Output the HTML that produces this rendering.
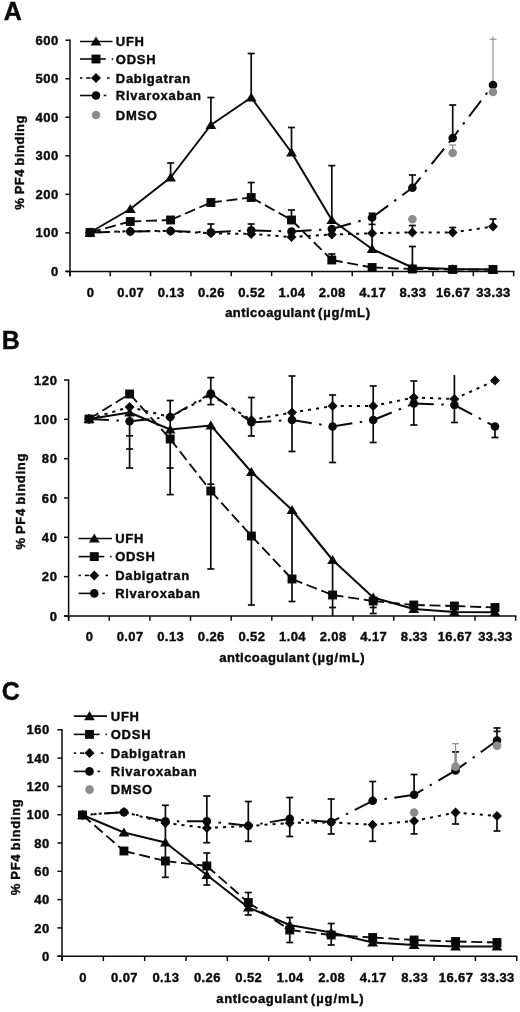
<!DOCTYPE html>
<html lang="en">
<head>
<meta charset="utf-8">
<title>PF4 binding vs anticoagulant</title>
<style>
html,body{margin:0;padding:0;background:#fff;}
body{width:520px;height:1012px;overflow:hidden;}
svg{display:block;font-family:"Liberation Sans", sans-serif;fill:#0a0a0a;will-change:transform;}
text{stroke:#0a0a0a;stroke-width:0.4px;stroke-linejoin:round;}
</style>
</head>
<body>
<svg width="520" height="1012" viewBox="0 0 520 1012">
<rect x="0" y="0" width="520" height="1012" fill="#ffffff"/>
<text x="3.70" y="19.90" font-size="25" font-weight="bold" text-anchor="start" letter-spacing="0">A</text>
<line x1="70.00" y1="39.50" x2="70.00" y2="276.20" stroke="#0a0a0a" stroke-width="1.5" stroke-linecap="butt"/>
<line x1="65.40" y1="271.40" x2="514.40" y2="271.40" stroke="#0a0a0a" stroke-width="1.5" stroke-linecap="butt"/>
<line x1="69.90" y1="271.40" x2="69.90" y2="276.20" stroke="#0a0a0a" stroke-width="1.5" stroke-linecap="butt"/>
<line x1="110.24" y1="271.40" x2="110.24" y2="276.20" stroke="#0a0a0a" stroke-width="1.5" stroke-linecap="butt"/>
<line x1="150.58" y1="271.40" x2="150.58" y2="276.20" stroke="#0a0a0a" stroke-width="1.5" stroke-linecap="butt"/>
<line x1="190.92" y1="271.40" x2="190.92" y2="276.20" stroke="#0a0a0a" stroke-width="1.5" stroke-linecap="butt"/>
<line x1="231.26" y1="271.40" x2="231.26" y2="276.20" stroke="#0a0a0a" stroke-width="1.5" stroke-linecap="butt"/>
<line x1="271.60" y1="271.40" x2="271.60" y2="276.20" stroke="#0a0a0a" stroke-width="1.5" stroke-linecap="butt"/>
<line x1="311.94" y1="271.40" x2="311.94" y2="276.20" stroke="#0a0a0a" stroke-width="1.5" stroke-linecap="butt"/>
<line x1="352.28" y1="271.40" x2="352.28" y2="276.20" stroke="#0a0a0a" stroke-width="1.5" stroke-linecap="butt"/>
<line x1="392.62" y1="271.40" x2="392.62" y2="276.20" stroke="#0a0a0a" stroke-width="1.5" stroke-linecap="butt"/>
<line x1="432.96" y1="271.40" x2="432.96" y2="276.20" stroke="#0a0a0a" stroke-width="1.5" stroke-linecap="butt"/>
<line x1="473.30" y1="271.40" x2="473.30" y2="276.20" stroke="#0a0a0a" stroke-width="1.5" stroke-linecap="butt"/>
<line x1="513.64" y1="271.40" x2="513.64" y2="276.20" stroke="#0a0a0a" stroke-width="1.5" stroke-linecap="butt"/>
<line x1="65.40" y1="271.40" x2="70.00" y2="271.40" stroke="#0a0a0a" stroke-width="1.5" stroke-linecap="butt"/>
<text x="58.90" y="276.00" font-size="13" font-weight="bold" text-anchor="end" letter-spacing="0.6">0</text>
<line x1="65.40" y1="232.87" x2="70.00" y2="232.87" stroke="#0a0a0a" stroke-width="1.5" stroke-linecap="butt"/>
<text x="58.90" y="237.47" font-size="13" font-weight="bold" text-anchor="end" letter-spacing="0.6">100</text>
<line x1="65.40" y1="194.33" x2="70.00" y2="194.33" stroke="#0a0a0a" stroke-width="1.5" stroke-linecap="butt"/>
<text x="58.90" y="198.93" font-size="13" font-weight="bold" text-anchor="end" letter-spacing="0.6">200</text>
<line x1="65.40" y1="155.80" x2="70.00" y2="155.80" stroke="#0a0a0a" stroke-width="1.5" stroke-linecap="butt"/>
<text x="58.90" y="160.40" font-size="13" font-weight="bold" text-anchor="end" letter-spacing="0.6">300</text>
<line x1="65.40" y1="117.27" x2="70.00" y2="117.27" stroke="#0a0a0a" stroke-width="1.5" stroke-linecap="butt"/>
<text x="58.90" y="121.87" font-size="13" font-weight="bold" text-anchor="end" letter-spacing="0.6">400</text>
<line x1="65.40" y1="78.73" x2="70.00" y2="78.73" stroke="#0a0a0a" stroke-width="1.5" stroke-linecap="butt"/>
<text x="58.90" y="83.33" font-size="13" font-weight="bold" text-anchor="end" letter-spacing="0.6">500</text>
<line x1="65.40" y1="40.20" x2="70.00" y2="40.20" stroke="#0a0a0a" stroke-width="1.5" stroke-linecap="butt"/>
<text x="58.90" y="44.80" font-size="13" font-weight="bold" text-anchor="end" letter-spacing="0.6">600</text>
<text x="90.50" y="297.00" font-size="13" font-weight="bold" text-anchor="middle" letter-spacing="0.4">0</text>
<text x="130.80" y="297.00" font-size="13" font-weight="bold" text-anchor="middle" letter-spacing="0.4">0.07</text>
<text x="171.10" y="297.00" font-size="13" font-weight="bold" text-anchor="middle" letter-spacing="0.4">0.13</text>
<text x="211.40" y="297.00" font-size="13" font-weight="bold" text-anchor="middle" letter-spacing="0.4">0.26</text>
<text x="251.70" y="297.00" font-size="13" font-weight="bold" text-anchor="middle" letter-spacing="0.4">0.52</text>
<text x="292.00" y="297.00" font-size="13" font-weight="bold" text-anchor="middle" letter-spacing="0.4">1.04</text>
<text x="332.30" y="297.00" font-size="13" font-weight="bold" text-anchor="middle" letter-spacing="0.4">2.08</text>
<text x="372.60" y="297.00" font-size="13" font-weight="bold" text-anchor="middle" letter-spacing="0.4">4.17</text>
<text x="412.90" y="297.00" font-size="13" font-weight="bold" text-anchor="middle" letter-spacing="0.4">8.33</text>
<text x="453.20" y="297.00" font-size="13" font-weight="bold" text-anchor="middle" letter-spacing="0.4">16.67</text>
<text x="493.50" y="297.00" font-size="13" font-weight="bold" text-anchor="middle" letter-spacing="0.4">33.33</text>
<text x="298.10" y="317.00" font-size="13" font-weight="bold" text-anchor="middle" letter-spacing="0.48" word-spacing="-1.5"><tspan letter-spacing="0.44">anticoagulant</tspan> <tspan letter-spacing="0.82">(µg/mL)</tspan></text>
<text x="24.40" y="162.30" font-size="13" font-weight="bold" text-anchor="middle" letter-spacing="0.55" word-spacing="-1" transform="rotate(-90 24.40 162.30)">% PF4 binding</text>
<line x1="170.60" y1="177.50" x2="170.60" y2="163.00" stroke="#0a0a0a" stroke-width="1.7" stroke-linecap="butt"/>
<line x1="167.10" y1="163.00" x2="174.10" y2="163.00" stroke="#0a0a0a" stroke-width="1.7" stroke-linecap="butt"/>
<line x1="210.90" y1="125.00" x2="210.90" y2="97.50" stroke="#0a0a0a" stroke-width="1.7" stroke-linecap="butt"/>
<line x1="207.40" y1="97.50" x2="214.40" y2="97.50" stroke="#0a0a0a" stroke-width="1.7" stroke-linecap="butt"/>
<line x1="251.20" y1="97.50" x2="251.20" y2="53.50" stroke="#0a0a0a" stroke-width="1.7" stroke-linecap="butt"/>
<line x1="247.70" y1="53.50" x2="254.70" y2="53.50" stroke="#0a0a0a" stroke-width="1.7" stroke-linecap="butt"/>
<line x1="291.50" y1="152.50" x2="291.50" y2="127.50" stroke="#0a0a0a" stroke-width="1.7" stroke-linecap="butt"/>
<line x1="288.00" y1="127.50" x2="295.00" y2="127.50" stroke="#0a0a0a" stroke-width="1.7" stroke-linecap="butt"/>
<line x1="331.80" y1="220.00" x2="331.80" y2="165.60" stroke="#0a0a0a" stroke-width="1.7" stroke-linecap="butt"/>
<line x1="328.30" y1="165.60" x2="335.30" y2="165.60" stroke="#0a0a0a" stroke-width="1.7" stroke-linecap="butt"/>
<line x1="372.10" y1="249.00" x2="372.10" y2="221.00" stroke="#0a0a0a" stroke-width="1.7" stroke-linecap="butt"/>
<line x1="368.60" y1="224.40" x2="375.60" y2="224.40" stroke="#0a0a0a" stroke-width="1.7" stroke-linecap="butt"/>
<line x1="412.40" y1="232.40" x2="412.40" y2="225.50" stroke="#0a0a0a" stroke-width="1.7" stroke-linecap="butt"/>
<line x1="408.90" y1="225.50" x2="415.90" y2="225.50" stroke="#0a0a0a" stroke-width="1.7" stroke-linecap="butt"/>
<line x1="412.40" y1="267.50" x2="412.40" y2="246.50" stroke="#0a0a0a" stroke-width="1.7" stroke-linecap="butt"/>
<line x1="408.90" y1="246.50" x2="415.90" y2="246.50" stroke="#0a0a0a" stroke-width="1.7" stroke-linecap="butt"/>
<line x1="251.20" y1="197.50" x2="251.20" y2="182.50" stroke="#0a0a0a" stroke-width="1.7" stroke-linecap="butt"/>
<line x1="247.70" y1="182.50" x2="254.70" y2="182.50" stroke="#0a0a0a" stroke-width="1.7" stroke-linecap="butt"/>
<line x1="291.50" y1="220.00" x2="291.50" y2="210.00" stroke="#0a0a0a" stroke-width="1.7" stroke-linecap="butt"/>
<line x1="288.00" y1="210.00" x2="295.00" y2="210.00" stroke="#0a0a0a" stroke-width="1.7" stroke-linecap="butt"/>
<line x1="331.80" y1="260.00" x2="331.80" y2="254.00" stroke="#0a0a0a" stroke-width="1.7" stroke-linecap="butt"/>
<line x1="328.30" y1="254.00" x2="335.30" y2="254.00" stroke="#0a0a0a" stroke-width="1.7" stroke-linecap="butt"/>
<line x1="210.90" y1="234.00" x2="210.90" y2="224.00" stroke="#0a0a0a" stroke-width="1.7" stroke-linecap="butt"/>
<line x1="207.40" y1="224.00" x2="214.40" y2="224.00" stroke="#0a0a0a" stroke-width="1.7" stroke-linecap="butt"/>
<line x1="251.20" y1="234.00" x2="251.20" y2="224.00" stroke="#0a0a0a" stroke-width="1.7" stroke-linecap="butt"/>
<line x1="247.70" y1="224.00" x2="254.70" y2="224.00" stroke="#0a0a0a" stroke-width="1.7" stroke-linecap="butt"/>
<line x1="372.10" y1="217.50" x2="372.10" y2="213.30" stroke="#0a0a0a" stroke-width="1.7" stroke-linecap="butt"/>
<line x1="368.60" y1="213.30" x2="375.60" y2="213.30" stroke="#0a0a0a" stroke-width="1.7" stroke-linecap="butt"/>
<line x1="412.40" y1="187.50" x2="412.40" y2="175.00" stroke="#0a0a0a" stroke-width="1.7" stroke-linecap="butt"/>
<line x1="408.90" y1="175.00" x2="415.90" y2="175.00" stroke="#0a0a0a" stroke-width="1.7" stroke-linecap="butt"/>
<line x1="452.70" y1="137.50" x2="452.70" y2="105.00" stroke="#0a0a0a" stroke-width="1.7" stroke-linecap="butt"/>
<line x1="449.20" y1="105.00" x2="456.20" y2="105.00" stroke="#0a0a0a" stroke-width="1.7" stroke-linecap="butt"/>
<line x1="493.00" y1="85.00" x2="493.00" y2="36.20" stroke="#8c8c8c" stroke-width="1.1" stroke-linecap="butt"/>
<line x1="489.50" y1="39.20" x2="496.50" y2="39.20" stroke="#8c8c8c" stroke-width="1.1" stroke-linecap="butt"/>
<line x1="452.70" y1="152.50" x2="452.70" y2="145.00" stroke="#8c8c8c" stroke-width="1.25" stroke-linecap="butt"/>
<line x1="449.20" y1="145.00" x2="456.20" y2="145.00" stroke="#8c8c8c" stroke-width="1.25" stroke-linecap="butt"/>
<line x1="452.70" y1="232.50" x2="452.70" y2="227.50" stroke="#0a0a0a" stroke-width="1.7" stroke-linecap="butt"/>
<line x1="449.20" y1="227.50" x2="456.20" y2="227.50" stroke="#0a0a0a" stroke-width="1.7" stroke-linecap="butt"/>
<line x1="493.00" y1="226.50" x2="493.00" y2="219.00" stroke="#0a0a0a" stroke-width="1.7" stroke-linecap="butt"/>
<line x1="489.50" y1="219.00" x2="496.50" y2="219.00" stroke="#0a0a0a" stroke-width="1.7" stroke-linecap="butt"/>
<line x1="90.00" y1="232.50" x2="130.30" y2="231.20" stroke="#0a0a0a" stroke-width="2.0" stroke-dasharray="3.1 5.0"/>
<line x1="130.30" y1="231.20" x2="170.60" y2="231.00" stroke="#0a0a0a" stroke-width="2.0" stroke-dasharray="3.1 5.0"/>
<line x1="170.60" y1="231.00" x2="210.90" y2="233.30" stroke="#0a0a0a" stroke-width="2.0" stroke-dasharray="3.1 5.0"/>
<line x1="210.90" y1="233.30" x2="251.20" y2="234.00" stroke="#0a0a0a" stroke-width="2.0" stroke-dasharray="3.1 5.0"/>
<line x1="251.20" y1="234.00" x2="291.50" y2="237.00" stroke="#0a0a0a" stroke-width="2.0" stroke-dasharray="3.1 5.0"/>
<line x1="291.50" y1="237.00" x2="331.80" y2="234.50" stroke="#0a0a0a" stroke-width="2.0" stroke-dasharray="3.1 5.0"/>
<line x1="331.80" y1="234.50" x2="372.10" y2="233.30" stroke="#0a0a0a" stroke-width="2.0" stroke-dasharray="3.1 5.0"/>
<line x1="372.10" y1="233.30" x2="412.40" y2="232.40" stroke="#0a0a0a" stroke-width="2.0" stroke-dasharray="3.1 5.0"/>
<line x1="412.40" y1="232.40" x2="452.70" y2="232.50" stroke="#0a0a0a" stroke-width="2.0" stroke-dasharray="3.1 5.0"/>
<line x1="452.70" y1="232.50" x2="493.00" y2="226.50" stroke="#0a0a0a" stroke-width="2.0" stroke-dasharray="3.1 5.0"/>
<line x1="90.00" y1="232.50" x2="130.30" y2="231.50" stroke="#0a0a0a" stroke-width="2.0" stroke-dasharray="20 7.5 2.5 7.5"/>
<line x1="130.30" y1="231.50" x2="170.60" y2="231.00" stroke="#0a0a0a" stroke-width="2.0" stroke-dasharray="20 7.5 2.5 7.5"/>
<line x1="170.60" y1="231.00" x2="210.90" y2="232.30" stroke="#0a0a0a" stroke-width="2.0" stroke-dasharray="20 7.5 2.5 7.5"/>
<line x1="210.90" y1="232.30" x2="251.20" y2="230.30" stroke="#0a0a0a" stroke-width="2.0" stroke-dasharray="20 7.5 2.5 7.5"/>
<line x1="251.20" y1="230.30" x2="291.50" y2="231.50" stroke="#0a0a0a" stroke-width="2.0" stroke-dasharray="20 7.5 2.5 7.5"/>
<line x1="291.50" y1="231.50" x2="331.80" y2="229.00" stroke="#0a0a0a" stroke-width="2.0" stroke-dasharray="20 7.5 2.5 7.5"/>
<line x1="331.80" y1="229.00" x2="372.10" y2="217.50" stroke="#0a0a0a" stroke-width="2.0" stroke-dasharray="20 7.5 2.5 7.5"/>
<line x1="372.10" y1="217.50" x2="412.40" y2="187.70" stroke="#0a0a0a" stroke-width="2.0" stroke-dasharray="20 7.5 2.5 7.5"/>
<line x1="412.40" y1="187.70" x2="452.70" y2="138.00" stroke="#0a0a0a" stroke-width="2.0" stroke-dasharray="20 7.5 2.5 7.5" stroke-dashoffset="7.1"/>
<line x1="452.70" y1="138.00" x2="493.00" y2="85.00" stroke="#0a0a0a" stroke-width="2.0" stroke-dasharray="20 7.5 2.5 7.5" stroke-dashoffset="10.5"/>
<line x1="90.00" y1="232.50" x2="130.30" y2="221.50" stroke="#0a0a0a" stroke-width="1.85" stroke-dasharray="11 4.7"/>
<line x1="130.30" y1="221.50" x2="170.60" y2="220.00" stroke="#0a0a0a" stroke-width="1.85" stroke-dasharray="11 4.7"/>
<line x1="170.60" y1="220.00" x2="210.90" y2="202.50" stroke="#0a0a0a" stroke-width="1.85" stroke-dasharray="11 4.7"/>
<line x1="210.90" y1="202.50" x2="251.20" y2="197.50" stroke="#0a0a0a" stroke-width="1.85" stroke-dasharray="11 4.7"/>
<line x1="251.20" y1="197.50" x2="291.50" y2="220.00" stroke="#0a0a0a" stroke-width="1.85" stroke-dasharray="11 4.7"/>
<line x1="291.50" y1="220.00" x2="331.80" y2="260.00" stroke="#0a0a0a" stroke-width="1.85" stroke-dasharray="11 4.7"/>
<line x1="331.80" y1="260.00" x2="372.10" y2="267.50" stroke="#0a0a0a" stroke-width="1.85" stroke-dasharray="11 4.7"/>
<line x1="372.10" y1="267.50" x2="412.40" y2="269.00" stroke="#0a0a0a" stroke-width="1.85" stroke-dasharray="11 4.7"/>
<line x1="412.40" y1="269.00" x2="452.70" y2="269.50" stroke="#0a0a0a" stroke-width="1.85" stroke-dasharray="11 4.7"/>
<line x1="452.70" y1="269.50" x2="493.00" y2="269.50" stroke="#0a0a0a" stroke-width="1.85" stroke-dasharray="11 4.7"/>
<polyline points="90.00,232.50 130.30,209.00 170.60,177.50 210.90,125.00 251.20,97.50 291.50,152.50 331.80,220.00 372.10,249.00 412.40,267.50 452.70,269.00 493.00,269.50" fill="none" stroke="#0a0a0a" stroke-width="2.0" stroke-linejoin="round"/>
<circle cx="90.00" cy="232.50" r="4.3" fill="#0a0a0a"/>
<circle cx="130.30" cy="231.50" r="4.3" fill="#0a0a0a"/>
<circle cx="170.60" cy="231.00" r="4.3" fill="#0a0a0a"/>
<circle cx="210.90" cy="232.30" r="4.3" fill="#0a0a0a"/>
<circle cx="251.20" cy="230.30" r="4.3" fill="#0a0a0a"/>
<circle cx="291.50" cy="231.50" r="4.3" fill="#0a0a0a"/>
<circle cx="331.80" cy="229.00" r="4.3" fill="#0a0a0a"/>
<circle cx="372.10" cy="217.50" r="4.3" fill="#0a0a0a"/>
<circle cx="412.40" cy="187.70" r="4.3" fill="#0a0a0a"/>
<circle cx="452.70" cy="138.00" r="4.3" fill="#0a0a0a"/>
<circle cx="493.00" cy="85.00" r="4.3" fill="#0a0a0a"/>
<polygon points="90.00,227.50 95.00,232.50 90.00,237.50 85.00,232.50" fill="#0a0a0a"/>
<polygon points="130.30,226.20 135.30,231.20 130.30,236.20 125.30,231.20" fill="#0a0a0a"/>
<polygon points="170.60,226.00 175.60,231.00 170.60,236.00 165.60,231.00" fill="#0a0a0a"/>
<polygon points="210.90,228.30 215.90,233.30 210.90,238.30 205.90,233.30" fill="#0a0a0a"/>
<polygon points="251.20,229.00 256.20,234.00 251.20,239.00 246.20,234.00" fill="#0a0a0a"/>
<polygon points="291.50,232.00 296.50,237.00 291.50,242.00 286.50,237.00" fill="#0a0a0a"/>
<polygon points="331.80,229.50 336.80,234.50 331.80,239.50 326.80,234.50" fill="#0a0a0a"/>
<polygon points="372.10,228.30 377.10,233.30 372.10,238.30 367.10,233.30" fill="#0a0a0a"/>
<polygon points="412.40,227.40 417.40,232.40 412.40,237.40 407.40,232.40" fill="#0a0a0a"/>
<polygon points="452.70,227.50 457.70,232.50 452.70,237.50 447.70,232.50" fill="#0a0a0a"/>
<polygon points="493.00,221.50 498.00,226.50 493.00,231.50 488.00,226.50" fill="#0a0a0a"/>
<polygon points="90.00,227.50 95.40,236.60 84.60,236.60" fill="#0a0a0a"/>
<polygon points="130.30,204.00 135.70,213.10 124.90,213.10" fill="#0a0a0a"/>
<polygon points="170.60,172.50 176.00,181.60 165.20,181.60" fill="#0a0a0a"/>
<polygon points="210.90,120.00 216.30,129.10 205.50,129.10" fill="#0a0a0a"/>
<polygon points="251.20,92.50 256.60,101.60 245.80,101.60" fill="#0a0a0a"/>
<polygon points="291.50,147.50 296.90,156.60 286.10,156.60" fill="#0a0a0a"/>
<polygon points="331.80,215.00 337.20,224.10 326.40,224.10" fill="#0a0a0a"/>
<polygon points="372.10,244.00 377.50,253.10 366.70,253.10" fill="#0a0a0a"/>
<polygon points="412.40,262.50 417.80,271.60 407.00,271.60" fill="#0a0a0a"/>
<polygon points="452.70,264.00 458.10,273.10 447.30,273.10" fill="#0a0a0a"/>
<polygon points="493.00,264.50 498.40,273.60 487.60,273.60" fill="#0a0a0a"/>
<rect x="85.55" y="228.05" width="8.90" height="8.90" fill="#0a0a0a"/>
<rect x="125.85" y="217.05" width="8.90" height="8.90" fill="#0a0a0a"/>
<rect x="166.15" y="215.55" width="8.90" height="8.90" fill="#0a0a0a"/>
<rect x="206.45" y="198.05" width="8.90" height="8.90" fill="#0a0a0a"/>
<rect x="246.75" y="193.05" width="8.90" height="8.90" fill="#0a0a0a"/>
<rect x="287.05" y="215.55" width="8.90" height="8.90" fill="#0a0a0a"/>
<rect x="327.35" y="255.55" width="8.90" height="8.90" fill="#0a0a0a"/>
<rect x="367.65" y="263.05" width="8.90" height="8.90" fill="#0a0a0a"/>
<rect x="407.95" y="264.55" width="8.90" height="8.90" fill="#0a0a0a"/>
<rect x="448.25" y="265.05" width="8.90" height="8.90" fill="#0a0a0a"/>
<rect x="488.55" y="265.05" width="8.90" height="8.90" fill="#0a0a0a"/>
<circle cx="412.40" cy="219.20" r="4.3" fill="#8c8c8c"/>
<circle cx="452.70" cy="153.00" r="4.3" fill="#8c8c8c"/>
<circle cx="493.00" cy="92.00" r="4.3" fill="#8c8c8c"/>
<line x1="80.00" y1="41.50" x2="112.50" y2="41.50" stroke="#0a0a0a" stroke-width="1.6" stroke-linecap="butt"/>
<polygon points="96.00,36.50 101.40,45.60 90.60,45.60" fill="#0a0a0a"/>
<text x="115.80" y="46.20" font-size="13" font-weight="bold" text-anchor="start" letter-spacing="0.72">UFH</text>
<line x1="80.00" y1="59.00" x2="105.80" y2="59.00" stroke="#0a0a0a" stroke-width="1.6" stroke-linecap="butt"/>
<line x1="111.70" y1="59.00" x2="113.10" y2="59.00" stroke="#0a0a0a" stroke-width="1.6" stroke-linecap="butt"/>
<rect x="91.55" y="54.55" width="8.90" height="8.90" fill="#0a0a0a"/>
<text x="115.80" y="63.70" font-size="13" font-weight="bold" text-anchor="start" letter-spacing="0.72">ODSH</text>
<line x1="80.00" y1="78.00" x2="82.40" y2="78.00" stroke="#0a0a0a" stroke-width="1.6" stroke-linecap="butt"/>
<line x1="86.20" y1="78.00" x2="90.50" y2="78.00" stroke="#0a0a0a" stroke-width="1.6" stroke-linecap="butt"/>
<line x1="107.00" y1="78.00" x2="109.60" y2="78.00" stroke="#0a0a0a" stroke-width="1.6" stroke-linecap="butt"/>
<polygon points="96.00,73.00 101.00,78.00 96.00,83.00 91.00,78.00" fill="#0a0a0a"/>
<text x="115.80" y="82.70" font-size="13" font-weight="bold" text-anchor="start" letter-spacing="0.72">Dabigatran</text>
<line x1="80.00" y1="95.50" x2="97.00" y2="95.50" stroke="#0a0a0a" stroke-width="1.6" stroke-linecap="butt"/>
<line x1="103.70" y1="95.50" x2="106.30" y2="95.50" stroke="#0a0a0a" stroke-width="1.6" stroke-linecap="butt"/>
<circle cx="96.00" cy="95.50" r="4.3" fill="#0a0a0a"/>
<text x="115.80" y="100.20" font-size="13" font-weight="bold" text-anchor="start" letter-spacing="0.72">Rivaroxaban</text>
<circle cx="96.00" cy="115.00" r="4.3" fill="#8c8c8c"/>
<text x="115.80" y="119.70" font-size="13" font-weight="bold" text-anchor="start" letter-spacing="0.72">DMSO</text>
<text x="1.80" y="348.50" font-size="25" font-weight="bold" text-anchor="start" letter-spacing="0">B</text>
<line x1="68.60" y1="379.30" x2="68.60" y2="620.80" stroke="#0a0a0a" stroke-width="1.5" stroke-linecap="butt"/>
<line x1="64.00" y1="616.00" x2="516.30" y2="616.00" stroke="#0a0a0a" stroke-width="1.5" stroke-linecap="butt"/>
<line x1="68.60" y1="616.00" x2="68.60" y2="620.80" stroke="#0a0a0a" stroke-width="1.5" stroke-linecap="butt"/>
<line x1="109.24" y1="616.00" x2="109.24" y2="620.80" stroke="#0a0a0a" stroke-width="1.5" stroke-linecap="butt"/>
<line x1="149.88" y1="616.00" x2="149.88" y2="620.80" stroke="#0a0a0a" stroke-width="1.5" stroke-linecap="butt"/>
<line x1="190.52" y1="616.00" x2="190.52" y2="620.80" stroke="#0a0a0a" stroke-width="1.5" stroke-linecap="butt"/>
<line x1="231.16" y1="616.00" x2="231.16" y2="620.80" stroke="#0a0a0a" stroke-width="1.5" stroke-linecap="butt"/>
<line x1="271.80" y1="616.00" x2="271.80" y2="620.80" stroke="#0a0a0a" stroke-width="1.5" stroke-linecap="butt"/>
<line x1="312.44" y1="616.00" x2="312.44" y2="620.80" stroke="#0a0a0a" stroke-width="1.5" stroke-linecap="butt"/>
<line x1="353.08" y1="616.00" x2="353.08" y2="620.80" stroke="#0a0a0a" stroke-width="1.5" stroke-linecap="butt"/>
<line x1="393.72" y1="616.00" x2="393.72" y2="620.80" stroke="#0a0a0a" stroke-width="1.5" stroke-linecap="butt"/>
<line x1="434.36" y1="616.00" x2="434.36" y2="620.80" stroke="#0a0a0a" stroke-width="1.5" stroke-linecap="butt"/>
<line x1="475.00" y1="616.00" x2="475.00" y2="620.80" stroke="#0a0a0a" stroke-width="1.5" stroke-linecap="butt"/>
<line x1="515.64" y1="616.00" x2="515.64" y2="620.80" stroke="#0a0a0a" stroke-width="1.5" stroke-linecap="butt"/>
<line x1="64.00" y1="616.00" x2="68.60" y2="616.00" stroke="#0a0a0a" stroke-width="1.5" stroke-linecap="butt"/>
<text x="57.50" y="620.60" font-size="13" font-weight="bold" text-anchor="end" letter-spacing="0.6">0</text>
<line x1="64.00" y1="576.67" x2="68.60" y2="576.67" stroke="#0a0a0a" stroke-width="1.5" stroke-linecap="butt"/>
<text x="57.50" y="581.27" font-size="13" font-weight="bold" text-anchor="end" letter-spacing="0.6">20</text>
<line x1="64.00" y1="537.33" x2="68.60" y2="537.33" stroke="#0a0a0a" stroke-width="1.5" stroke-linecap="butt"/>
<text x="57.50" y="541.93" font-size="13" font-weight="bold" text-anchor="end" letter-spacing="0.6">40</text>
<line x1="64.00" y1="498.00" x2="68.60" y2="498.00" stroke="#0a0a0a" stroke-width="1.5" stroke-linecap="butt"/>
<text x="57.50" y="502.60" font-size="13" font-weight="bold" text-anchor="end" letter-spacing="0.6">60</text>
<line x1="64.00" y1="458.67" x2="68.60" y2="458.67" stroke="#0a0a0a" stroke-width="1.5" stroke-linecap="butt"/>
<text x="57.50" y="463.27" font-size="13" font-weight="bold" text-anchor="end" letter-spacing="0.6">80</text>
<line x1="64.00" y1="419.33" x2="68.60" y2="419.33" stroke="#0a0a0a" stroke-width="1.5" stroke-linecap="butt"/>
<text x="57.50" y="423.93" font-size="13" font-weight="bold" text-anchor="end" letter-spacing="0.6">100</text>
<line x1="64.00" y1="380.00" x2="68.60" y2="380.00" stroke="#0a0a0a" stroke-width="1.5" stroke-linecap="butt"/>
<text x="57.50" y="384.60" font-size="13" font-weight="bold" text-anchor="end" letter-spacing="0.6">120</text>
<text x="89.50" y="641.00" font-size="13" font-weight="bold" text-anchor="middle" letter-spacing="0.4">0</text>
<text x="130.10" y="641.00" font-size="13" font-weight="bold" text-anchor="middle" letter-spacing="0.4">0.07</text>
<text x="170.70" y="641.00" font-size="13" font-weight="bold" text-anchor="middle" letter-spacing="0.4">0.13</text>
<text x="211.30" y="641.00" font-size="13" font-weight="bold" text-anchor="middle" letter-spacing="0.4">0.26</text>
<text x="251.90" y="641.00" font-size="13" font-weight="bold" text-anchor="middle" letter-spacing="0.4">0.52</text>
<text x="292.50" y="641.00" font-size="13" font-weight="bold" text-anchor="middle" letter-spacing="0.4">1.04</text>
<text x="333.10" y="641.00" font-size="13" font-weight="bold" text-anchor="middle" letter-spacing="0.4">2.08</text>
<text x="373.70" y="641.00" font-size="13" font-weight="bold" text-anchor="middle" letter-spacing="0.4">4.17</text>
<text x="414.30" y="641.00" font-size="13" font-weight="bold" text-anchor="middle" letter-spacing="0.4">8.33</text>
<text x="454.90" y="641.00" font-size="13" font-weight="bold" text-anchor="middle" letter-spacing="0.4">16.67</text>
<text x="495.50" y="641.00" font-size="13" font-weight="bold" text-anchor="middle" letter-spacing="0.4">33.33</text>
<text x="292.30" y="661.70" font-size="13" font-weight="bold" text-anchor="middle" letter-spacing="0.5" word-spacing="-1.5"><tspan letter-spacing="0.46">anticoagulant</tspan> <tspan letter-spacing="0.84">(µg/mL)</tspan></text>
<text x="24.90" y="501.30" font-size="13" font-weight="bold" text-anchor="middle" letter-spacing="0.7" word-spacing="-1" transform="rotate(-90 24.90 501.30)">% PF4 binding</text>
<line x1="129.60" y1="410.00" x2="129.60" y2="468.00" stroke="#0a0a0a" stroke-width="1.7" stroke-linecap="butt"/>
<line x1="126.10" y1="435.80" x2="133.10" y2="435.80" stroke="#0a0a0a" stroke-width="1.7" stroke-linecap="butt"/>
<line x1="126.10" y1="449.00" x2="133.10" y2="449.00" stroke="#0a0a0a" stroke-width="1.7" stroke-linecap="butt"/>
<line x1="126.10" y1="468.00" x2="133.10" y2="468.00" stroke="#0a0a0a" stroke-width="1.7" stroke-linecap="butt"/>
<line x1="170.20" y1="400.50" x2="170.20" y2="494.60" stroke="#0a0a0a" stroke-width="1.7" stroke-linecap="butt"/>
<line x1="166.70" y1="400.50" x2="173.70" y2="400.50" stroke="#0a0a0a" stroke-width="1.7" stroke-linecap="butt"/>
<line x1="166.70" y1="468.00" x2="173.70" y2="468.00" stroke="#0a0a0a" stroke-width="1.7" stroke-linecap="butt"/>
<line x1="166.70" y1="494.60" x2="173.70" y2="494.60" stroke="#0a0a0a" stroke-width="1.7" stroke-linecap="butt"/>
<line x1="210.80" y1="377.60" x2="210.80" y2="404.60" stroke="#0a0a0a" stroke-width="1.7" stroke-linecap="butt"/>
<line x1="207.30" y1="377.60" x2="214.30" y2="377.60" stroke="#0a0a0a" stroke-width="1.7" stroke-linecap="butt"/>
<line x1="207.30" y1="404.60" x2="214.30" y2="404.60" stroke="#0a0a0a" stroke-width="1.7" stroke-linecap="butt"/>
<line x1="210.80" y1="425.00" x2="210.80" y2="569.00" stroke="#0a0a0a" stroke-width="1.7" stroke-linecap="butt"/>
<line x1="207.30" y1="484.20" x2="214.30" y2="484.20" stroke="#0a0a0a" stroke-width="1.7" stroke-linecap="butt"/>
<line x1="207.30" y1="569.00" x2="214.30" y2="569.00" stroke="#0a0a0a" stroke-width="1.7" stroke-linecap="butt"/>
<line x1="251.40" y1="397.50" x2="251.40" y2="436.00" stroke="#0a0a0a" stroke-width="1.7" stroke-linecap="butt"/>
<line x1="247.90" y1="397.50" x2="254.90" y2="397.50" stroke="#0a0a0a" stroke-width="1.7" stroke-linecap="butt"/>
<line x1="247.90" y1="436.00" x2="254.90" y2="436.00" stroke="#0a0a0a" stroke-width="1.7" stroke-linecap="butt"/>
<line x1="251.40" y1="471.50" x2="251.40" y2="605.00" stroke="#0a0a0a" stroke-width="1.7" stroke-linecap="butt"/>
<line x1="247.90" y1="605.00" x2="254.90" y2="605.00" stroke="#0a0a0a" stroke-width="1.7" stroke-linecap="butt"/>
<line x1="292.00" y1="376.00" x2="292.00" y2="451.50" stroke="#0a0a0a" stroke-width="1.7" stroke-linecap="butt"/>
<line x1="288.50" y1="376.00" x2="295.50" y2="376.00" stroke="#0a0a0a" stroke-width="1.7" stroke-linecap="butt"/>
<line x1="288.50" y1="451.50" x2="295.50" y2="451.50" stroke="#0a0a0a" stroke-width="1.7" stroke-linecap="butt"/>
<line x1="292.00" y1="510.00" x2="292.00" y2="601.50" stroke="#0a0a0a" stroke-width="1.7" stroke-linecap="butt"/>
<line x1="288.50" y1="601.50" x2="295.50" y2="601.50" stroke="#0a0a0a" stroke-width="1.7" stroke-linecap="butt"/>
<line x1="332.60" y1="395.00" x2="332.60" y2="462.50" stroke="#0a0a0a" stroke-width="1.7" stroke-linecap="butt"/>
<line x1="329.10" y1="395.00" x2="336.10" y2="395.00" stroke="#0a0a0a" stroke-width="1.7" stroke-linecap="butt"/>
<line x1="329.10" y1="462.50" x2="336.10" y2="462.50" stroke="#0a0a0a" stroke-width="1.7" stroke-linecap="butt"/>
<line x1="332.60" y1="560.00" x2="332.60" y2="616.00" stroke="#0a0a0a" stroke-width="1.7" stroke-linecap="butt"/>
<line x1="329.10" y1="607.50" x2="336.10" y2="607.50" stroke="#0a0a0a" stroke-width="1.7" stroke-linecap="butt"/>
<line x1="373.20" y1="386.00" x2="373.20" y2="442.50" stroke="#0a0a0a" stroke-width="1.7" stroke-linecap="butt"/>
<line x1="369.70" y1="386.00" x2="376.70" y2="386.00" stroke="#0a0a0a" stroke-width="1.7" stroke-linecap="butt"/>
<line x1="369.70" y1="442.50" x2="376.70" y2="442.50" stroke="#0a0a0a" stroke-width="1.7" stroke-linecap="butt"/>
<line x1="373.20" y1="597.50" x2="373.20" y2="613.50" stroke="#0a0a0a" stroke-width="1.7" stroke-linecap="butt"/>
<line x1="369.70" y1="607.50" x2="376.70" y2="607.50" stroke="#0a0a0a" stroke-width="1.7" stroke-linecap="butt"/>
<line x1="369.70" y1="613.50" x2="376.70" y2="613.50" stroke="#0a0a0a" stroke-width="1.7" stroke-linecap="butt"/>
<line x1="413.80" y1="381.00" x2="413.80" y2="425.00" stroke="#0a0a0a" stroke-width="1.7" stroke-linecap="butt"/>
<line x1="410.30" y1="381.00" x2="417.30" y2="381.00" stroke="#0a0a0a" stroke-width="1.7" stroke-linecap="butt"/>
<line x1="410.30" y1="425.00" x2="417.30" y2="425.00" stroke="#0a0a0a" stroke-width="1.7" stroke-linecap="butt"/>
<line x1="454.40" y1="375.00" x2="454.40" y2="422.50" stroke="#0a0a0a" stroke-width="1.7" stroke-linecap="butt"/>
<line x1="450.90" y1="422.50" x2="457.90" y2="422.50" stroke="#0a0a0a" stroke-width="1.7" stroke-linecap="butt"/>
<line x1="495.00" y1="426.50" x2="495.00" y2="437.50" stroke="#0a0a0a" stroke-width="1.7" stroke-linecap="butt"/>
<line x1="491.50" y1="437.50" x2="498.50" y2="437.50" stroke="#0a0a0a" stroke-width="1.7" stroke-linecap="butt"/>
<line x1="89.00" y1="419.00" x2="129.60" y2="407.00" stroke="#0a0a0a" stroke-width="2.0" stroke-dasharray="3.1 5.0"/>
<line x1="129.60" y1="407.00" x2="170.20" y2="417.00" stroke="#0a0a0a" stroke-width="2.0" stroke-dasharray="3.1 5.0"/>
<line x1="170.20" y1="417.00" x2="210.80" y2="395.00" stroke="#0a0a0a" stroke-width="2.0" stroke-dasharray="3.1 5.0"/>
<line x1="210.80" y1="395.00" x2="251.40" y2="420.00" stroke="#0a0a0a" stroke-width="2.0" stroke-dasharray="3.1 5.0"/>
<line x1="251.40" y1="420.00" x2="292.00" y2="412.50" stroke="#0a0a0a" stroke-width="2.0" stroke-dasharray="3.1 5.0"/>
<line x1="292.00" y1="412.50" x2="332.60" y2="406.00" stroke="#0a0a0a" stroke-width="2.0" stroke-dasharray="3.1 5.0"/>
<line x1="332.60" y1="406.00" x2="373.20" y2="406.00" stroke="#0a0a0a" stroke-width="2.0" stroke-dasharray="3.1 5.0"/>
<line x1="373.20" y1="406.00" x2="413.80" y2="397.50" stroke="#0a0a0a" stroke-width="2.0" stroke-dasharray="3.1 5.0"/>
<line x1="413.80" y1="397.50" x2="454.40" y2="399.00" stroke="#0a0a0a" stroke-width="2.0" stroke-dasharray="3.1 5.0"/>
<line x1="454.40" y1="399.00" x2="495.00" y2="380.60" stroke="#0a0a0a" stroke-width="2.0" stroke-dasharray="3.1 5.0"/>
<line x1="89.00" y1="419.00" x2="129.60" y2="421.20" stroke="#0a0a0a" stroke-width="2.0" stroke-dasharray="20 7.5 2.5 7.5"/>
<line x1="129.60" y1="421.20" x2="170.20" y2="417.00" stroke="#0a0a0a" stroke-width="2.0" stroke-dasharray="20 7.5 2.5 7.5"/>
<line x1="170.20" y1="417.00" x2="210.80" y2="393.50" stroke="#0a0a0a" stroke-width="2.0" stroke-dasharray="20 7.5 2.5 7.5"/>
<line x1="210.80" y1="393.50" x2="251.40" y2="422.30" stroke="#0a0a0a" stroke-width="2.0" stroke-dasharray="20 7.5 2.5 7.5"/>
<line x1="251.40" y1="422.30" x2="292.00" y2="420.00" stroke="#0a0a0a" stroke-width="2.0" stroke-dasharray="20 7.5 2.5 7.5"/>
<line x1="292.00" y1="420.00" x2="332.60" y2="426.50" stroke="#0a0a0a" stroke-width="2.0" stroke-dasharray="20 7.5 2.5 7.5"/>
<line x1="332.60" y1="426.50" x2="373.20" y2="420.00" stroke="#0a0a0a" stroke-width="2.0" stroke-dasharray="20 7.5 2.5 7.5"/>
<line x1="373.20" y1="420.00" x2="413.80" y2="403.50" stroke="#0a0a0a" stroke-width="2.0" stroke-dasharray="20 7.5 2.5 7.5"/>
<line x1="413.80" y1="403.50" x2="454.40" y2="405.00" stroke="#0a0a0a" stroke-width="2.0" stroke-dasharray="20 7.5 2.5 7.5"/>
<line x1="454.40" y1="405.00" x2="495.00" y2="426.50" stroke="#0a0a0a" stroke-width="2.0" stroke-dasharray="20 7.5 2.5 7.5"/>
<line x1="89.00" y1="419.00" x2="129.60" y2="394.00" stroke="#0a0a0a" stroke-width="1.85" stroke-dasharray="11 4.7"/>
<line x1="129.60" y1="394.00" x2="170.20" y2="439.00" stroke="#0a0a0a" stroke-width="1.85" stroke-dasharray="11 4.7"/>
<line x1="170.20" y1="439.00" x2="210.80" y2="491.00" stroke="#0a0a0a" stroke-width="1.85" stroke-dasharray="11 4.7"/>
<line x1="210.80" y1="491.00" x2="251.40" y2="536.00" stroke="#0a0a0a" stroke-width="1.85" stroke-dasharray="11 4.7"/>
<line x1="251.40" y1="536.00" x2="292.00" y2="579.00" stroke="#0a0a0a" stroke-width="1.85" stroke-dasharray="11 4.7"/>
<line x1="292.00" y1="579.00" x2="332.60" y2="595.00" stroke="#0a0a0a" stroke-width="1.85" stroke-dasharray="11 4.7"/>
<line x1="332.60" y1="595.00" x2="373.20" y2="601.00" stroke="#0a0a0a" stroke-width="1.85" stroke-dasharray="11 4.7"/>
<line x1="373.20" y1="601.00" x2="413.80" y2="605.00" stroke="#0a0a0a" stroke-width="1.85" stroke-dasharray="11 4.7"/>
<line x1="413.80" y1="605.00" x2="454.40" y2="606.00" stroke="#0a0a0a" stroke-width="1.85" stroke-dasharray="11 4.7"/>
<line x1="454.40" y1="606.00" x2="495.00" y2="607.50" stroke="#0a0a0a" stroke-width="1.85" stroke-dasharray="11 4.7"/>
<polyline points="89.00,419.00 129.60,412.50 170.20,429.50 210.80,425.40 251.40,472.00 292.00,510.00 332.60,560.00 373.20,597.50 413.80,609.00 454.40,612.00 495.00,612.20" fill="none" stroke="#0a0a0a" stroke-width="2.0" stroke-linejoin="round"/>
<circle cx="89.00" cy="419.00" r="4.3" fill="#0a0a0a"/>
<circle cx="129.60" cy="421.20" r="4.3" fill="#0a0a0a"/>
<circle cx="170.20" cy="417.00" r="4.3" fill="#0a0a0a"/>
<circle cx="210.80" cy="393.50" r="4.3" fill="#0a0a0a"/>
<circle cx="251.40" cy="422.30" r="4.3" fill="#0a0a0a"/>
<circle cx="292.00" cy="420.00" r="4.3" fill="#0a0a0a"/>
<circle cx="332.60" cy="426.50" r="4.3" fill="#0a0a0a"/>
<circle cx="373.20" cy="420.00" r="4.3" fill="#0a0a0a"/>
<circle cx="413.80" cy="403.50" r="4.3" fill="#0a0a0a"/>
<circle cx="454.40" cy="405.00" r="4.3" fill="#0a0a0a"/>
<circle cx="495.00" cy="426.50" r="4.3" fill="#0a0a0a"/>
<polygon points="89.00,414.00 94.00,419.00 89.00,424.00 84.00,419.00" fill="#0a0a0a"/>
<polygon points="129.60,402.00 134.60,407.00 129.60,412.00 124.60,407.00" fill="#0a0a0a"/>
<polygon points="170.20,412.00 175.20,417.00 170.20,422.00 165.20,417.00" fill="#0a0a0a"/>
<polygon points="210.80,390.00 215.80,395.00 210.80,400.00 205.80,395.00" fill="#0a0a0a"/>
<polygon points="251.40,415.00 256.40,420.00 251.40,425.00 246.40,420.00" fill="#0a0a0a"/>
<polygon points="292.00,407.50 297.00,412.50 292.00,417.50 287.00,412.50" fill="#0a0a0a"/>
<polygon points="332.60,401.00 337.60,406.00 332.60,411.00 327.60,406.00" fill="#0a0a0a"/>
<polygon points="373.20,401.00 378.20,406.00 373.20,411.00 368.20,406.00" fill="#0a0a0a"/>
<polygon points="413.80,392.50 418.80,397.50 413.80,402.50 408.80,397.50" fill="#0a0a0a"/>
<polygon points="454.40,394.00 459.40,399.00 454.40,404.00 449.40,399.00" fill="#0a0a0a"/>
<polygon points="495.00,375.60 500.00,380.60 495.00,385.60 490.00,380.60" fill="#0a0a0a"/>
<polygon points="89.00,414.00 94.40,423.10 83.60,423.10" fill="#0a0a0a"/>
<polygon points="129.60,407.50 135.00,416.60 124.20,416.60" fill="#0a0a0a"/>
<polygon points="170.20,424.50 175.60,433.60 164.80,433.60" fill="#0a0a0a"/>
<polygon points="210.80,420.40 216.20,429.50 205.40,429.50" fill="#0a0a0a"/>
<polygon points="251.40,467.00 256.80,476.10 246.00,476.10" fill="#0a0a0a"/>
<polygon points="292.00,505.00 297.40,514.10 286.60,514.10" fill="#0a0a0a"/>
<polygon points="332.60,555.00 338.00,564.10 327.20,564.10" fill="#0a0a0a"/>
<polygon points="373.20,592.50 378.60,601.60 367.80,601.60" fill="#0a0a0a"/>
<polygon points="413.80,604.00 419.20,613.10 408.40,613.10" fill="#0a0a0a"/>
<polygon points="454.40,607.00 459.80,616.10 449.00,616.10" fill="#0a0a0a"/>
<polygon points="495.00,607.20 500.40,616.30 489.60,616.30" fill="#0a0a0a"/>
<rect x="84.55" y="414.55" width="8.90" height="8.90" fill="#0a0a0a"/>
<rect x="125.15" y="389.55" width="8.90" height="8.90" fill="#0a0a0a"/>
<rect x="165.75" y="434.55" width="8.90" height="8.90" fill="#0a0a0a"/>
<rect x="206.35" y="486.55" width="8.90" height="8.90" fill="#0a0a0a"/>
<rect x="246.95" y="531.55" width="8.90" height="8.90" fill="#0a0a0a"/>
<rect x="287.55" y="574.55" width="8.90" height="8.90" fill="#0a0a0a"/>
<rect x="328.15" y="590.55" width="8.90" height="8.90" fill="#0a0a0a"/>
<rect x="368.75" y="596.55" width="8.90" height="8.90" fill="#0a0a0a"/>
<rect x="409.35" y="600.55" width="8.90" height="8.90" fill="#0a0a0a"/>
<rect x="449.95" y="601.55" width="8.90" height="8.90" fill="#0a0a0a"/>
<rect x="490.55" y="603.05" width="8.90" height="8.90" fill="#0a0a0a"/>
<line x1="78.50" y1="538.50" x2="112.00" y2="538.50" stroke="#0a0a0a" stroke-width="1.6" stroke-linecap="butt"/>
<polygon points="94.30,533.50 99.70,542.60 88.90,542.60" fill="#0a0a0a"/>
<text x="115.20" y="543.20" font-size="13" font-weight="bold" text-anchor="start" letter-spacing="0.68">UFH</text>
<line x1="78.50" y1="556.60" x2="104.30" y2="556.60" stroke="#0a0a0a" stroke-width="1.6" stroke-linecap="butt"/>
<line x1="110.20" y1="556.60" x2="111.60" y2="556.60" stroke="#0a0a0a" stroke-width="1.6" stroke-linecap="butt"/>
<rect x="89.85" y="552.15" width="8.90" height="8.90" fill="#0a0a0a"/>
<text x="115.20" y="561.30" font-size="13" font-weight="bold" text-anchor="start" letter-spacing="0.68">ODSH</text>
<line x1="78.50" y1="575.40" x2="80.90" y2="575.40" stroke="#0a0a0a" stroke-width="1.6" stroke-linecap="butt"/>
<line x1="84.70" y1="575.40" x2="89.00" y2="575.40" stroke="#0a0a0a" stroke-width="1.6" stroke-linecap="butt"/>
<line x1="105.50" y1="575.40" x2="108.10" y2="575.40" stroke="#0a0a0a" stroke-width="1.6" stroke-linecap="butt"/>
<polygon points="94.30,570.40 99.30,575.40 94.30,580.40 89.30,575.40" fill="#0a0a0a"/>
<text x="115.20" y="580.10" font-size="13" font-weight="bold" text-anchor="start" letter-spacing="0.68">Dabigatran</text>
<line x1="78.50" y1="593.40" x2="95.30" y2="593.40" stroke="#0a0a0a" stroke-width="1.6" stroke-linecap="butt"/>
<line x1="102.20" y1="593.40" x2="104.80" y2="593.40" stroke="#0a0a0a" stroke-width="1.6" stroke-linecap="butt"/>
<circle cx="94.30" cy="593.40" r="4.3" fill="#0a0a0a"/>
<text x="115.20" y="598.10" font-size="13" font-weight="bold" text-anchor="start" letter-spacing="0.68">Rivaroxaban</text>
<text x="1.70" y="699.60" font-size="25" font-weight="bold" text-anchor="start" letter-spacing="0">C</text>
<line x1="62.00" y1="729.10" x2="62.00" y2="961.00" stroke="#0a0a0a" stroke-width="1.5" stroke-linecap="butt"/>
<line x1="57.40" y1="956.20" x2="517.40" y2="956.20" stroke="#0a0a0a" stroke-width="1.5" stroke-linecap="butt"/>
<line x1="62.00" y1="956.20" x2="62.00" y2="961.00" stroke="#0a0a0a" stroke-width="1.5" stroke-linecap="butt"/>
<line x1="103.34" y1="956.20" x2="103.34" y2="961.00" stroke="#0a0a0a" stroke-width="1.5" stroke-linecap="butt"/>
<line x1="144.68" y1="956.20" x2="144.68" y2="961.00" stroke="#0a0a0a" stroke-width="1.5" stroke-linecap="butt"/>
<line x1="186.02" y1="956.20" x2="186.02" y2="961.00" stroke="#0a0a0a" stroke-width="1.5" stroke-linecap="butt"/>
<line x1="227.36" y1="956.20" x2="227.36" y2="961.00" stroke="#0a0a0a" stroke-width="1.5" stroke-linecap="butt"/>
<line x1="268.70" y1="956.20" x2="268.70" y2="961.00" stroke="#0a0a0a" stroke-width="1.5" stroke-linecap="butt"/>
<line x1="310.04" y1="956.20" x2="310.04" y2="961.00" stroke="#0a0a0a" stroke-width="1.5" stroke-linecap="butt"/>
<line x1="351.38" y1="956.20" x2="351.38" y2="961.00" stroke="#0a0a0a" stroke-width="1.5" stroke-linecap="butt"/>
<line x1="392.72" y1="956.20" x2="392.72" y2="961.00" stroke="#0a0a0a" stroke-width="1.5" stroke-linecap="butt"/>
<line x1="434.06" y1="956.20" x2="434.06" y2="961.00" stroke="#0a0a0a" stroke-width="1.5" stroke-linecap="butt"/>
<line x1="475.40" y1="956.20" x2="475.40" y2="961.00" stroke="#0a0a0a" stroke-width="1.5" stroke-linecap="butt"/>
<line x1="516.74" y1="956.20" x2="516.74" y2="961.00" stroke="#0a0a0a" stroke-width="1.5" stroke-linecap="butt"/>
<line x1="57.40" y1="956.20" x2="62.00" y2="956.20" stroke="#0a0a0a" stroke-width="1.5" stroke-linecap="butt"/>
<text x="49.90" y="960.80" font-size="13" font-weight="bold" text-anchor="end" letter-spacing="0.6">0</text>
<line x1="57.40" y1="927.90" x2="62.00" y2="927.90" stroke="#0a0a0a" stroke-width="1.5" stroke-linecap="butt"/>
<text x="49.90" y="932.50" font-size="13" font-weight="bold" text-anchor="end" letter-spacing="0.6">20</text>
<line x1="57.40" y1="899.60" x2="62.00" y2="899.60" stroke="#0a0a0a" stroke-width="1.5" stroke-linecap="butt"/>
<text x="49.90" y="904.20" font-size="13" font-weight="bold" text-anchor="end" letter-spacing="0.6">40</text>
<line x1="57.40" y1="871.30" x2="62.00" y2="871.30" stroke="#0a0a0a" stroke-width="1.5" stroke-linecap="butt"/>
<text x="49.90" y="875.90" font-size="13" font-weight="bold" text-anchor="end" letter-spacing="0.6">60</text>
<line x1="57.40" y1="843.00" x2="62.00" y2="843.00" stroke="#0a0a0a" stroke-width="1.5" stroke-linecap="butt"/>
<text x="49.90" y="847.60" font-size="13" font-weight="bold" text-anchor="end" letter-spacing="0.6">80</text>
<line x1="57.40" y1="814.70" x2="62.00" y2="814.70" stroke="#0a0a0a" stroke-width="1.5" stroke-linecap="butt"/>
<text x="49.90" y="819.30" font-size="13" font-weight="bold" text-anchor="end" letter-spacing="0.6">100</text>
<line x1="57.40" y1="786.40" x2="62.00" y2="786.40" stroke="#0a0a0a" stroke-width="1.5" stroke-linecap="butt"/>
<text x="49.90" y="791.00" font-size="13" font-weight="bold" text-anchor="end" letter-spacing="0.6">120</text>
<line x1="57.40" y1="758.10" x2="62.00" y2="758.10" stroke="#0a0a0a" stroke-width="1.5" stroke-linecap="butt"/>
<text x="49.90" y="762.70" font-size="13" font-weight="bold" text-anchor="end" letter-spacing="0.6">140</text>
<line x1="57.40" y1="729.80" x2="62.00" y2="729.80" stroke="#0a0a0a" stroke-width="1.5" stroke-linecap="butt"/>
<text x="49.90" y="734.40" font-size="13" font-weight="bold" text-anchor="end" letter-spacing="0.6">160</text>
<text x="83.00" y="982.00" font-size="13" font-weight="bold" text-anchor="middle" letter-spacing="0.4">0</text>
<text x="124.45" y="982.00" font-size="13" font-weight="bold" text-anchor="middle" letter-spacing="0.4">0.07</text>
<text x="165.90" y="982.00" font-size="13" font-weight="bold" text-anchor="middle" letter-spacing="0.4">0.13</text>
<text x="207.35" y="982.00" font-size="13" font-weight="bold" text-anchor="middle" letter-spacing="0.4">0.26</text>
<text x="248.80" y="982.00" font-size="13" font-weight="bold" text-anchor="middle" letter-spacing="0.4">0.52</text>
<text x="290.25" y="982.00" font-size="13" font-weight="bold" text-anchor="middle" letter-spacing="0.4">1.04</text>
<text x="331.70" y="982.00" font-size="13" font-weight="bold" text-anchor="middle" letter-spacing="0.4">2.08</text>
<text x="373.15" y="982.00" font-size="13" font-weight="bold" text-anchor="middle" letter-spacing="0.4">4.17</text>
<text x="414.60" y="982.00" font-size="13" font-weight="bold" text-anchor="middle" letter-spacing="0.4">8.33</text>
<text x="456.05" y="982.00" font-size="13" font-weight="bold" text-anchor="middle" letter-spacing="0.4">16.67</text>
<text x="497.50" y="982.00" font-size="13" font-weight="bold" text-anchor="middle" letter-spacing="0.4">33.33</text>
<text x="290.50" y="1003.20" font-size="13" font-weight="bold" text-anchor="middle" letter-spacing="0.6" word-spacing="-1.5"><tspan letter-spacing="0.56">anticoagulant</tspan> <tspan letter-spacing="0.94">(µg/mL)</tspan></text>
<text x="20.20" y="846.90" font-size="13" font-weight="bold" text-anchor="middle" letter-spacing="0.7" word-spacing="-1" transform="rotate(-90 20.20 846.90)">% PF4 binding</text>
<line x1="165.40" y1="805.30" x2="165.40" y2="877.30" stroke="#0a0a0a" stroke-width="1.7" stroke-linecap="butt"/>
<line x1="161.90" y1="805.30" x2="168.90" y2="805.30" stroke="#0a0a0a" stroke-width="1.7" stroke-linecap="butt"/>
<line x1="161.90" y1="877.30" x2="168.90" y2="877.30" stroke="#0a0a0a" stroke-width="1.7" stroke-linecap="butt"/>
<line x1="206.85" y1="796.00" x2="206.85" y2="842.70" stroke="#0a0a0a" stroke-width="1.7" stroke-linecap="butt"/>
<line x1="203.35" y1="796.00" x2="210.35" y2="796.00" stroke="#0a0a0a" stroke-width="1.7" stroke-linecap="butt"/>
<line x1="203.35" y1="842.70" x2="210.35" y2="842.70" stroke="#0a0a0a" stroke-width="1.7" stroke-linecap="butt"/>
<line x1="206.85" y1="853.00" x2="206.85" y2="885.00" stroke="#0a0a0a" stroke-width="1.7" stroke-linecap="butt"/>
<line x1="203.35" y1="853.00" x2="210.35" y2="853.00" stroke="#0a0a0a" stroke-width="1.7" stroke-linecap="butt"/>
<line x1="203.35" y1="885.00" x2="210.35" y2="885.00" stroke="#0a0a0a" stroke-width="1.7" stroke-linecap="butt"/>
<line x1="248.30" y1="801.50" x2="248.30" y2="841.30" stroke="#0a0a0a" stroke-width="1.7" stroke-linecap="butt"/>
<line x1="244.80" y1="801.50" x2="251.80" y2="801.50" stroke="#0a0a0a" stroke-width="1.7" stroke-linecap="butt"/>
<line x1="244.80" y1="841.30" x2="251.80" y2="841.30" stroke="#0a0a0a" stroke-width="1.7" stroke-linecap="butt"/>
<line x1="248.30" y1="892.50" x2="248.30" y2="915.00" stroke="#0a0a0a" stroke-width="1.7" stroke-linecap="butt"/>
<line x1="244.80" y1="892.50" x2="251.80" y2="892.50" stroke="#0a0a0a" stroke-width="1.7" stroke-linecap="butt"/>
<line x1="244.80" y1="915.00" x2="251.80" y2="915.00" stroke="#0a0a0a" stroke-width="1.7" stroke-linecap="butt"/>
<line x1="289.75" y1="797.50" x2="289.75" y2="836.50" stroke="#0a0a0a" stroke-width="1.7" stroke-linecap="butt"/>
<line x1="286.25" y1="797.50" x2="293.25" y2="797.50" stroke="#0a0a0a" stroke-width="1.7" stroke-linecap="butt"/>
<line x1="286.25" y1="836.50" x2="293.25" y2="836.50" stroke="#0a0a0a" stroke-width="1.7" stroke-linecap="butt"/>
<line x1="289.75" y1="917.50" x2="289.75" y2="942.50" stroke="#0a0a0a" stroke-width="1.7" stroke-linecap="butt"/>
<line x1="286.25" y1="917.50" x2="293.25" y2="917.50" stroke="#0a0a0a" stroke-width="1.7" stroke-linecap="butt"/>
<line x1="286.25" y1="942.50" x2="293.25" y2="942.50" stroke="#0a0a0a" stroke-width="1.7" stroke-linecap="butt"/>
<line x1="331.20" y1="799.00" x2="331.20" y2="834.00" stroke="#0a0a0a" stroke-width="1.7" stroke-linecap="butt"/>
<line x1="327.70" y1="799.00" x2="334.70" y2="799.00" stroke="#0a0a0a" stroke-width="1.7" stroke-linecap="butt"/>
<line x1="327.70" y1="834.00" x2="334.70" y2="834.00" stroke="#0a0a0a" stroke-width="1.7" stroke-linecap="butt"/>
<line x1="331.20" y1="923.50" x2="331.20" y2="945.00" stroke="#0a0a0a" stroke-width="1.7" stroke-linecap="butt"/>
<line x1="327.70" y1="923.50" x2="334.70" y2="923.50" stroke="#0a0a0a" stroke-width="1.7" stroke-linecap="butt"/>
<line x1="327.70" y1="945.00" x2="334.70" y2="945.00" stroke="#0a0a0a" stroke-width="1.7" stroke-linecap="butt"/>
<line x1="372.65" y1="801.00" x2="372.65" y2="781.50" stroke="#0a0a0a" stroke-width="1.7" stroke-linecap="butt"/>
<line x1="369.15" y1="781.50" x2="376.15" y2="781.50" stroke="#0a0a0a" stroke-width="1.7" stroke-linecap="butt"/>
<line x1="372.65" y1="825.00" x2="372.65" y2="841.30" stroke="#0a0a0a" stroke-width="1.7" stroke-linecap="butt"/>
<line x1="369.15" y1="841.30" x2="376.15" y2="841.30" stroke="#0a0a0a" stroke-width="1.7" stroke-linecap="butt"/>
<line x1="414.10" y1="794.80" x2="414.10" y2="774.50" stroke="#0a0a0a" stroke-width="1.7" stroke-linecap="butt"/>
<line x1="410.60" y1="774.50" x2="417.60" y2="774.50" stroke="#0a0a0a" stroke-width="1.7" stroke-linecap="butt"/>
<line x1="414.10" y1="821.00" x2="414.10" y2="833.90" stroke="#0a0a0a" stroke-width="1.7" stroke-linecap="butt"/>
<line x1="410.60" y1="833.90" x2="417.60" y2="833.90" stroke="#0a0a0a" stroke-width="1.7" stroke-linecap="butt"/>
<line x1="455.55" y1="812.50" x2="455.55" y2="824.00" stroke="#0a0a0a" stroke-width="1.7" stroke-linecap="butt"/>
<line x1="452.05" y1="824.00" x2="459.05" y2="824.00" stroke="#0a0a0a" stroke-width="1.7" stroke-linecap="butt"/>
<line x1="455.55" y1="770.00" x2="455.55" y2="751.90" stroke="#0a0a0a" stroke-width="1.7" stroke-linecap="butt"/>
<line x1="452.05" y1="751.90" x2="459.05" y2="751.90" stroke="#0a0a0a" stroke-width="1.7" stroke-linecap="butt"/>
<line x1="455.55" y1="766.00" x2="455.55" y2="743.70" stroke="#8c8c8c" stroke-width="1.25" stroke-linecap="butt"/>
<line x1="452.05" y1="743.70" x2="459.05" y2="743.70" stroke="#8c8c8c" stroke-width="1.25" stroke-linecap="butt"/>
<line x1="497.00" y1="816.00" x2="497.00" y2="831.00" stroke="#0a0a0a" stroke-width="1.7" stroke-linecap="butt"/>
<line x1="493.50" y1="831.00" x2="500.50" y2="831.00" stroke="#0a0a0a" stroke-width="1.7" stroke-linecap="butt"/>
<line x1="497.00" y1="741.00" x2="497.00" y2="728.00" stroke="#0a0a0a" stroke-width="1.7" stroke-linecap="butt"/>
<line x1="493.50" y1="728.00" x2="500.50" y2="728.00" stroke="#0a0a0a" stroke-width="1.7" stroke-linecap="butt"/>
<line x1="493.50" y1="731.40" x2="500.50" y2="731.40" stroke="#0a0a0a" stroke-width="1.7" stroke-linecap="butt"/>
<line x1="82.50" y1="815.00" x2="123.95" y2="812.00" stroke="#0a0a0a" stroke-width="2.0" stroke-dasharray="3.1 5.0"/>
<line x1="123.95" y1="812.00" x2="165.40" y2="823.00" stroke="#0a0a0a" stroke-width="2.0" stroke-dasharray="3.1 5.0"/>
<line x1="165.40" y1="823.00" x2="206.85" y2="828.00" stroke="#0a0a0a" stroke-width="2.0" stroke-dasharray="3.1 5.0"/>
<line x1="206.85" y1="828.00" x2="248.30" y2="826.00" stroke="#0a0a0a" stroke-width="2.0" stroke-dasharray="3.1 5.0"/>
<line x1="248.30" y1="826.00" x2="289.75" y2="823.00" stroke="#0a0a0a" stroke-width="2.0" stroke-dasharray="3.1 5.0"/>
<line x1="289.75" y1="823.00" x2="331.20" y2="822.30" stroke="#0a0a0a" stroke-width="2.0" stroke-dasharray="3.1 5.0"/>
<line x1="331.20" y1="822.30" x2="372.65" y2="824.70" stroke="#0a0a0a" stroke-width="2.0" stroke-dasharray="3.1 5.0"/>
<line x1="372.65" y1="824.70" x2="414.10" y2="821.00" stroke="#0a0a0a" stroke-width="2.0" stroke-dasharray="3.1 5.0"/>
<line x1="414.10" y1="821.00" x2="455.55" y2="812.50" stroke="#0a0a0a" stroke-width="2.0" stroke-dasharray="3.1 5.0"/>
<line x1="455.55" y1="812.50" x2="497.00" y2="816.00" stroke="#0a0a0a" stroke-width="2.0" stroke-dasharray="3.1 5.0"/>
<line x1="123.95" y1="812.20" x2="82.50" y2="815.00" stroke="#0a0a0a" stroke-width="2.0" stroke-dasharray="20 7.5 2.5 7.5"/>
<line x1="165.40" y1="821.20" x2="123.95" y2="812.20" stroke="#0a0a0a" stroke-width="2.0" stroke-dasharray="20 7.5 2.5 7.5"/>
<line x1="206.85" y1="821.20" x2="165.40" y2="821.20" stroke="#0a0a0a" stroke-width="2.0" stroke-dasharray="20 7.5 2.5 7.5"/>
<line x1="248.30" y1="825.80" x2="206.85" y2="821.20" stroke="#0a0a0a" stroke-width="2.0" stroke-dasharray="20 7.5 2.5 7.5"/>
<line x1="289.75" y1="818.80" x2="248.30" y2="825.80" stroke="#0a0a0a" stroke-width="2.0" stroke-dasharray="20 7.5 2.5 7.5"/>
<line x1="331.20" y1="822.00" x2="289.75" y2="818.80" stroke="#0a0a0a" stroke-width="2.0" stroke-dasharray="20 7.5 2.5 7.5"/>
<line x1="372.65" y1="800.80" x2="331.20" y2="822.00" stroke="#0a0a0a" stroke-width="2.0" stroke-dasharray="20 7.5 2.5 7.5"/>
<line x1="414.10" y1="794.80" x2="372.65" y2="800.80" stroke="#0a0a0a" stroke-width="2.0" stroke-dasharray="20 7.5 2.5 7.5"/>
<line x1="455.55" y1="770.40" x2="414.10" y2="794.80" stroke="#0a0a0a" stroke-width="2.0" stroke-dasharray="20 7.5 2.5 7.5"/>
<line x1="497.00" y1="740.50" x2="455.55" y2="770.40" stroke="#0a0a0a" stroke-width="2.0" stroke-dasharray="20 7.5 2.5 7.5"/>
<line x1="82.50" y1="815.00" x2="123.95" y2="851.00" stroke="#0a0a0a" stroke-width="1.85" stroke-dasharray="11 4.7"/>
<line x1="123.95" y1="851.00" x2="165.40" y2="861.00" stroke="#0a0a0a" stroke-width="1.85" stroke-dasharray="11 4.7"/>
<line x1="165.40" y1="861.00" x2="206.85" y2="866.00" stroke="#0a0a0a" stroke-width="1.85" stroke-dasharray="11 4.7"/>
<line x1="206.85" y1="866.00" x2="248.30" y2="902.50" stroke="#0a0a0a" stroke-width="1.85" stroke-dasharray="11 4.7"/>
<line x1="248.30" y1="902.50" x2="289.75" y2="930.00" stroke="#0a0a0a" stroke-width="1.85" stroke-dasharray="11 4.7"/>
<line x1="289.75" y1="930.00" x2="331.20" y2="935.00" stroke="#0a0a0a" stroke-width="1.85" stroke-dasharray="11 4.7"/>
<line x1="331.20" y1="935.00" x2="372.65" y2="937.50" stroke="#0a0a0a" stroke-width="1.85" stroke-dasharray="11 4.7"/>
<line x1="372.65" y1="937.50" x2="414.10" y2="940.00" stroke="#0a0a0a" stroke-width="1.85" stroke-dasharray="11 4.7"/>
<line x1="414.10" y1="940.00" x2="455.55" y2="941.50" stroke="#0a0a0a" stroke-width="1.85" stroke-dasharray="11 4.7"/>
<line x1="455.55" y1="941.50" x2="497.00" y2="942.50" stroke="#0a0a0a" stroke-width="1.85" stroke-dasharray="11 4.7"/>
<polyline points="82.50,815.00 123.95,832.50 165.40,842.50 206.85,875.00 248.30,907.50 289.75,925.00 331.20,932.50 372.65,942.50 414.10,945.00 455.55,946.50 497.00,946.50" fill="none" stroke="#0a0a0a" stroke-width="2.0" stroke-linejoin="round"/>
<circle cx="82.50" cy="815.00" r="4.3" fill="#0a0a0a"/>
<circle cx="123.95" cy="812.20" r="4.3" fill="#0a0a0a"/>
<circle cx="165.40" cy="821.20" r="4.3" fill="#0a0a0a"/>
<circle cx="206.85" cy="821.20" r="4.3" fill="#0a0a0a"/>
<circle cx="248.30" cy="825.80" r="4.3" fill="#0a0a0a"/>
<circle cx="289.75" cy="818.80" r="4.3" fill="#0a0a0a"/>
<circle cx="331.20" cy="822.00" r="4.3" fill="#0a0a0a"/>
<circle cx="372.65" cy="800.80" r="4.3" fill="#0a0a0a"/>
<circle cx="414.10" cy="794.80" r="4.3" fill="#0a0a0a"/>
<circle cx="455.55" cy="770.40" r="4.3" fill="#0a0a0a"/>
<circle cx="497.00" cy="740.50" r="4.3" fill="#0a0a0a"/>
<polygon points="82.50,810.00 87.50,815.00 82.50,820.00 77.50,815.00" fill="#0a0a0a"/>
<polygon points="123.95,807.00 128.95,812.00 123.95,817.00 118.95,812.00" fill="#0a0a0a"/>
<polygon points="165.40,818.00 170.40,823.00 165.40,828.00 160.40,823.00" fill="#0a0a0a"/>
<polygon points="206.85,823.00 211.85,828.00 206.85,833.00 201.85,828.00" fill="#0a0a0a"/>
<polygon points="248.30,821.00 253.30,826.00 248.30,831.00 243.30,826.00" fill="#0a0a0a"/>
<polygon points="289.75,818.00 294.75,823.00 289.75,828.00 284.75,823.00" fill="#0a0a0a"/>
<polygon points="331.20,817.30 336.20,822.30 331.20,827.30 326.20,822.30" fill="#0a0a0a"/>
<polygon points="372.65,819.70 377.65,824.70 372.65,829.70 367.65,824.70" fill="#0a0a0a"/>
<polygon points="414.10,816.00 419.10,821.00 414.10,826.00 409.10,821.00" fill="#0a0a0a"/>
<polygon points="455.55,807.50 460.55,812.50 455.55,817.50 450.55,812.50" fill="#0a0a0a"/>
<polygon points="497.00,811.00 502.00,816.00 497.00,821.00 492.00,816.00" fill="#0a0a0a"/>
<polygon points="82.50,810.00 87.90,819.10 77.10,819.10" fill="#0a0a0a"/>
<polygon points="123.95,827.50 129.35,836.60 118.55,836.60" fill="#0a0a0a"/>
<polygon points="165.40,837.50 170.80,846.60 160.00,846.60" fill="#0a0a0a"/>
<polygon points="206.85,870.00 212.25,879.10 201.45,879.10" fill="#0a0a0a"/>
<polygon points="248.30,902.50 253.70,911.60 242.90,911.60" fill="#0a0a0a"/>
<polygon points="289.75,920.00 295.15,929.10 284.35,929.10" fill="#0a0a0a"/>
<polygon points="331.20,927.50 336.60,936.60 325.80,936.60" fill="#0a0a0a"/>
<polygon points="372.65,937.50 378.05,946.60 367.25,946.60" fill="#0a0a0a"/>
<polygon points="414.10,940.00 419.50,949.10 408.70,949.10" fill="#0a0a0a"/>
<polygon points="455.55,941.50 460.95,950.60 450.15,950.60" fill="#0a0a0a"/>
<polygon points="497.00,941.50 502.40,950.60 491.60,950.60" fill="#0a0a0a"/>
<rect x="78.05" y="810.55" width="8.90" height="8.90" fill="#0a0a0a"/>
<rect x="119.50" y="846.55" width="8.90" height="8.90" fill="#0a0a0a"/>
<rect x="160.95" y="856.55" width="8.90" height="8.90" fill="#0a0a0a"/>
<rect x="202.40" y="861.55" width="8.90" height="8.90" fill="#0a0a0a"/>
<rect x="243.85" y="898.05" width="8.90" height="8.90" fill="#0a0a0a"/>
<rect x="285.30" y="925.55" width="8.90" height="8.90" fill="#0a0a0a"/>
<rect x="326.75" y="930.55" width="8.90" height="8.90" fill="#0a0a0a"/>
<rect x="368.20" y="933.05" width="8.90" height="8.90" fill="#0a0a0a"/>
<rect x="409.65" y="935.55" width="8.90" height="8.90" fill="#0a0a0a"/>
<rect x="451.10" y="937.05" width="8.90" height="8.90" fill="#0a0a0a"/>
<rect x="492.55" y="938.05" width="8.90" height="8.90" fill="#0a0a0a"/>
<circle cx="414.10" cy="812.50" r="4.3" fill="#8c8c8c"/>
<circle cx="455.55" cy="766.60" r="4.3" fill="#8c8c8c"/>
<circle cx="497.00" cy="745.80" r="4.3" fill="#8c8c8c"/>
<line x1="73.80" y1="716.10" x2="107.00" y2="716.10" stroke="#0a0a0a" stroke-width="1.6" stroke-linecap="butt"/>
<polygon points="89.50,711.10 94.90,720.20 84.10,720.20" fill="#0a0a0a"/>
<text x="110.70" y="720.80" font-size="13" font-weight="bold" text-anchor="start" letter-spacing="0.8">UFH</text>
<line x1="73.80" y1="734.40" x2="99.60" y2="734.40" stroke="#0a0a0a" stroke-width="1.6" stroke-linecap="butt"/>
<line x1="105.50" y1="734.40" x2="106.90" y2="734.40" stroke="#0a0a0a" stroke-width="1.6" stroke-linecap="butt"/>
<rect x="85.05" y="729.95" width="8.90" height="8.90" fill="#0a0a0a"/>
<text x="110.70" y="739.10" font-size="13" font-weight="bold" text-anchor="start" letter-spacing="0.8">ODSH</text>
<line x1="73.80" y1="753.10" x2="76.20" y2="753.10" stroke="#0a0a0a" stroke-width="1.6" stroke-linecap="butt"/>
<line x1="80.00" y1="753.10" x2="84.30" y2="753.10" stroke="#0a0a0a" stroke-width="1.6" stroke-linecap="butt"/>
<line x1="100.80" y1="753.10" x2="103.40" y2="753.10" stroke="#0a0a0a" stroke-width="1.6" stroke-linecap="butt"/>
<polygon points="89.50,748.10 94.50,753.10 89.50,758.10 84.50,753.10" fill="#0a0a0a"/>
<text x="110.70" y="757.80" font-size="13" font-weight="bold" text-anchor="start" letter-spacing="0.8">Dabigatran</text>
<line x1="73.80" y1="771.40" x2="90.50" y2="771.40" stroke="#0a0a0a" stroke-width="1.6" stroke-linecap="butt"/>
<line x1="97.50" y1="771.40" x2="100.10" y2="771.40" stroke="#0a0a0a" stroke-width="1.6" stroke-linecap="butt"/>
<circle cx="89.50" cy="771.40" r="4.3" fill="#0a0a0a"/>
<text x="110.70" y="776.10" font-size="13" font-weight="bold" text-anchor="start" letter-spacing="0.8">Rivaroxaban</text>
<circle cx="89.50" cy="789.60" r="4.3" fill="#8c8c8c"/>
<text x="110.70" y="794.30" font-size="13" font-weight="bold" text-anchor="start" letter-spacing="0.8">DMSO</text>
</svg>
</body>
</html>
